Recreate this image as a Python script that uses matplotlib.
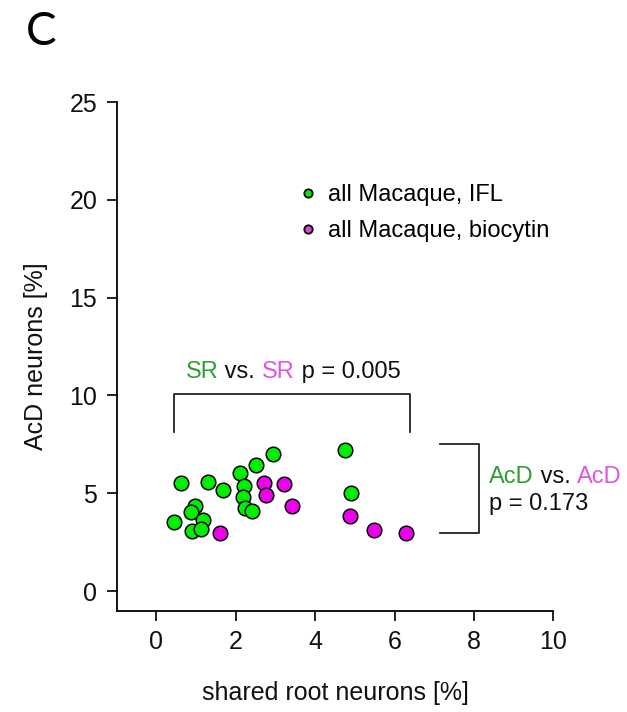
import numpy as np
import matplotlib
matplotlib.use('Agg')
import matplotlib.pyplot as plt
from matplotlib.lines import Line2D

plt.rcParams['font.family'] = ['Liberation Sans', 'DejaVu Sans']

#Data
ifl_x = [0.61, 1.30, 1.68, 0.98, 0.88, 1.18, 0.44, 0.91, 1.13, 2.12, 2.20, 2.18, 2.23, 2.41, 2.52, 2.94, 4.75, 4.91]
ifl_y = [5.51, 5.59, 5.16, 4.35, 4.06, 3.66, 3.54, 3.08, 3.20, 6.05, 5.37, 4.79, 4.23, 4.09, 6.44, 7.00, 7.21, 4.99]
bio_x = [1.61, 2.70, 2.76, 3.21, 3.43, 4.87, 5.48, 6.30]
bio_y = [2.95, 5.54, 4.91, 5.45, 4.35, 3.85, 3.12, 2.98]
p_sr = '0.005'
p_acd = '0.173'

green = '#00EE00'
magenta = '#EE00EE'
txt_green = '#2E9E2E'
txt_magenta = '#E055E0'
ink = '#111111'

fig = plt.figure(figsize=(6.27, 7.12), dpi=100)
ax = fig.add_axes([0.186, 0.1423, 0.6965, 0.7144])

ax.scatter(ifl_x, ifl_y, s=110, c=green, edgecolors='black', linewidths=1.1, zorder=3)
ax.scatter(bio_x, bio_y, s=110, c=magenta, edgecolors='black', linewidths=1.1, zorder=3)

ax.set_xlim(-1, 10)
ax.set_ylim(-1, 25)
ax.set_xticks(range(0, 11, 2))
ax.set_yticks(range(0, 26, 5))
for s in ['top', 'right']:
    ax.spines[s].set_visible(False)
for s in ['left', 'bottom']:
    ax.spines[s].set_linewidth(1.3)
ax.tick_params(direction='out', length=7, width=1.3, labelsize=18, pad=7, colors=ink)
ax.set_xlabel('shared root neurons [%]', fontsize=18, labelpad=19, color=ink)
ax.set_ylabel('AcD neurons [%]', fontsize=18, labelpad=15, color=ink)

#SR bracket
ax.plot([0.44, 0.44, 6.39, 6.39], [8.14, 10.1, 10.1, 8.14], color='#222222', lw=1.3, clip_on=False)
t1 = ax.text(0.74, 11.2, 'SR', color=txt_green, fontsize=17, va='center')
t2 = ax.annotate(' vs. ', xy=(1, 0), xycoords=t1, va='bottom', fontsize=17, color=ink)
t3 = ax.annotate('SR', xy=(1, 0), xycoords=t2, va='bottom', fontsize=17, color=txt_magenta)
ax.annotate(' p = ' + p_sr, xy=(1, 0), xycoords=t3, va='bottom', fontsize=17, color=ink)

#AcD bracket
ax.plot([7.14, 8.13, 8.13, 7.14], [7.52, 7.52, 2.95, 2.95], color='#222222', lw=1.3, clip_on=False)
a1 = ax.text(8.38, 5.85, 'AcD', color=txt_green, fontsize=17, va='center', clip_on=False)
a2 = ax.annotate(' vs. ', xy=(1, 0), xycoords=a1, va='bottom', fontsize=17, color=ink)
ax.annotate('AcD', xy=(1, 0), xycoords=a2, va='bottom', fontsize=17, color=txt_magenta)
ax.text(8.38, 4.45, 'p = ' + p_acd, fontsize=17, va='center', color=ink)

#legend
handles = [Line2D([], [], marker='o', ls='', markersize=6, markerfacecolor=green, markeredgecolor='black', markeredgewidth=1.3),
           Line2D([], [], marker='o', ls='', markersize=6, markerfacecolor='#DD44DD', markeredgecolor='black', markeredgewidth=1.3)]
ax.legend(handles, ['all Macaque, IFL', 'all Macaque, biocytin'], loc='upper left', bbox_to_anchor=(0.352, 0.881),
          frameon=False, fontsize=17, handletextpad=0.15, labelspacing=0.6, handlelength=1.4)

fig.text(0.066, 0.955, 'C', fontsize=33, family='Lato', va='center', ha='center')

fig.savefig('out.png', dpi=100)
